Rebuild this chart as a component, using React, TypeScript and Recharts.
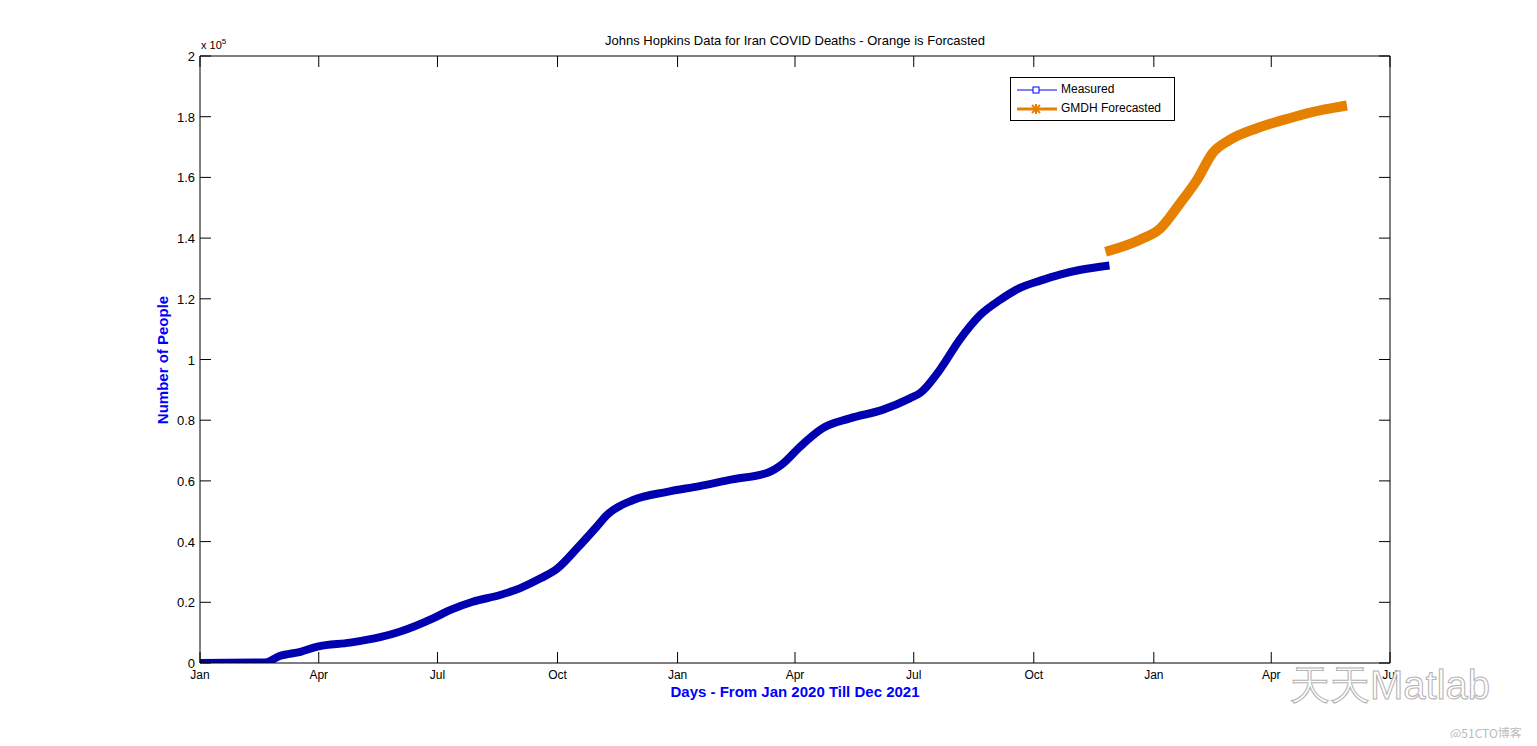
import React from 'react'
import { LineChart, Line, XAxis, YAxis, ReferenceLine, Legend } from 'recharts'

// days counted from 1 Jan 2020
const measuredDays = [0, 50, 61, 77, 90, 115, 138, 153, 179, 192, 209, 230, 245, 261, 274, 289, 304, 312, 332, 358, 383, 408, 435, 447, 460, 477, 498, 523, 544, 552, 567, 582, 598, 613, 628, 644, 659, 674, 697]
const measuredDeaths = [0, 200, 2300, 3700, 5400, 6700, 8500, 10300, 14800, 17500, 20200, 22400, 24600, 27900, 31200, 37800, 44900, 48800, 53700, 56400, 58300, 60500, 62700, 65800, 71300, 77300, 80600, 83400, 87200, 89000, 96600, 106400, 114700, 119600, 123500, 126000, 128000, 129500, 131000]

const forecastDays = [694, 720, 736, 751, 764, 776, 789, 810, 835, 861, 879]
const forecastDeaths = [135500, 139400, 143200, 151400, 159100, 168000, 172300, 176200, 179500, 182300, 183700]

const monthTicks = [0, 91, 182, 274, 366, 456, 547, 639, 731, 821, 912]
const monthLabels = ['Jan', 'Apr', 'Jul', 'Oct', 'Jan', 'Apr', 'Jul', 'Oct', 'Jan', 'Apr', 'Jul']
const yTicks = [0, 20000, 40000, 60000, 80000, 100000, 120000, 140000, 160000, 180000, 200000]

const measured = measuredDays.map((d, i) => ({ day: d, deaths: measuredDeaths[i] }))
const forecast = forecastDays.map((d, i) => ({ day: d, deaths: forecastDeaths[i] }))

const W = 1521
const H = 730
const PLOT_W = 1190
const PLOT_H = 607
const TICK = 11
const FONT = '"Liberation Sans", Arial, sans-serif'
const BLUE = '#0000b0'
const ORANGE = '#e68000'

const XTick = (props: any) => {
  const { x, y, index } = props
  return (
    <g>
      <line x1={x} y1={y} x2={x} y2={y - TICK} stroke="#000" />
      <line x1={x} y1={y - PLOT_H} x2={x} y2={y - PLOT_H + TICK} stroke="#000" />
      <text x={x} y={y + 16} textAnchor="middle" fontSize={12} fontFamily={FONT} fill="#000">
        {monthLabels[index]}
      </text>
    </g>
  )
}

const YTick = (props: any) => {
  const { x, y, payload } = props
  const label = String(Number((payload.value / 1e5).toFixed(1)))
  return (
    <g>
      <line x1={x} y1={y} x2={x + TICK} y2={y} stroke="#000" />
      <line x1={x + PLOT_W} y1={y} x2={x + PLOT_W - TICK} y2={y} stroke="#000" />
      <text x={x - 5} y={y + 5} textAnchor="end" fontSize={13} fontFamily={FONT} fill="#000">
        {label}
      </text>
    </g>
  )
}

const LegendBox = () => (
  <div
    style={{
      border: '1px solid #000',
      background: '#fff',
      width: 163,
      padding: '2px 0',
      fontFamily: FONT,
      fontSize: 12,
      lineHeight: '19px',
    }}
  >
    <div style={{ display: 'flex', alignItems: 'center' }}>
      <svg width={50} height={12}>
        <line x1={6} y1={6} x2={46} y2={6} stroke="#0000ff" strokeWidth={1} />
        <rect x={22} y={3} width={6} height={6} fill="#fff" stroke="#0000ff" />
      </svg>
      <span>Measured</span>
    </div>
    <div style={{ display: 'flex', alignItems: 'center' }}>
      <svg width={50} height={12}>
        <line x1={6} y1={6} x2={46} y2={6} stroke={ORANGE} strokeWidth={3} />
        <g stroke={ORANGE} strokeWidth={2}>
          <line x1={20} y1={6} x2={30} y2={6} />
          <line x1={25} y1={1} x2={25} y2={11} />
          <line x1={21} y1={2} x2={29} y2={10} />
          <line x1={29} y1={2} x2={21} y2={10} />
        </g>
      </svg>
      <span>GMDH Forecasted</span>
    </div>
  </div>
)

export default function App() {
  return (
    <div style={{ position: 'relative', width: W, height: H }}>
      <LineChart width={W} height={H} margin={{ top: 48, right: 139, left: 0, bottom: 45 }}>
        <XAxis
          type="number"
          dataKey="day"
          domain={[0, 912]}
          ticks={monthTicks}
          interval={0}
          tickSize={0}
          tickMargin={0}
          tickLine={false}
          tick={XTick}
          axisLine={{ stroke: '#000' }}
          height={30}
          allowDataOverflow
        />
        <YAxis
          type="number"
          domain={[0, 200000]}
          ticks={yTicks}
          interval={0}
          tickSize={0}
          tickMargin={0}
          tickLine={false}
          tick={YTick}
          axisLine={{ stroke: '#000' }}
          width={192}
          allowDataOverflow
        />
        <ReferenceLine y={200000} stroke="#000" />
        <ReferenceLine x={912} stroke="#000" />
        <Line
          data={measured}
          dataKey="deaths"
          type="monotone"
          stroke={BLUE}
          strokeWidth={8}
          dot={false}
          isAnimationActive={false}
          name="Measured"
        />
        <Line
          data={forecast}
          dataKey="deaths"
          type="monotone"
          stroke={ORANGE}
          strokeWidth={10}
          dot={false}
          isAnimationActive={false}
          name="GMDH Forecasted"
        />
        <Legend
          layout="vertical"
          align="center"
          verticalAlign="middle"
          content={LegendBox}
          wrapperStyle={{ position: 'absolute', top: 69, left: 1002, width: 'auto', height: 'auto' }}
        />
      </LineChart>

      <div style={{ position: 'absolute', top: 25, left: 0, width: 1574, textAlign: 'center', fontFamily: FONT, fontSize: 13 }}>
        Johns Hopkins Data for Iran COVID Deaths - Orange is Forcasted
      </div>
      <div style={{ position: 'absolute', top: 29, left: 193, fontFamily: FONT, fontSize: 11 }}>
        x 10<sup style={{ fontSize: 8 }}>5</sup>
      </div>
      <div
        style={{
          position: 'absolute',
          top: 675,
          left: 192,
          width: PLOT_W,
          textAlign: 'center',
          fontFamily: FONT,
          fontSize: 15,
          fontWeight: 'bold',
          color: '#0000ff',
        }}
      >
        Days - From Jan 2020 Till Dec 2021
      </div>
      <div
        style={{
          position: 'absolute',
          left: 154,
          top: 352,
          transform: 'translate(-50%, -50%) rotate(-90deg)',
          fontFamily: FONT,
          fontSize: 15,
          fontWeight: 'bold',
          color: '#0000ff',
          whiteSpace: 'nowrap',
        }}
      >
        Number of People
      </div>
      <div
        style={{
          position: 'absolute',
          left: 1282,
          top: 650,
          fontFamily: FONT,
          fontSize: 40,
          color: '#fff',
          WebkitTextStroke: '1px #aaa',
          whiteSpace: 'nowrap',
          opacity: 0.9,
        }}
      >
        天天Matlab
      </div>
      <div
        style={{
          position: 'absolute',
          left: 1442,
          top: 716,
          fontFamily: '"Noto Sans CJK SC", sans-serif',
          fontSize: 12,
          color: '#bbb',
          whiteSpace: 'nowrap',
        }}
      >
        @51CTO博客
      </div>
    </div>
  )
}
